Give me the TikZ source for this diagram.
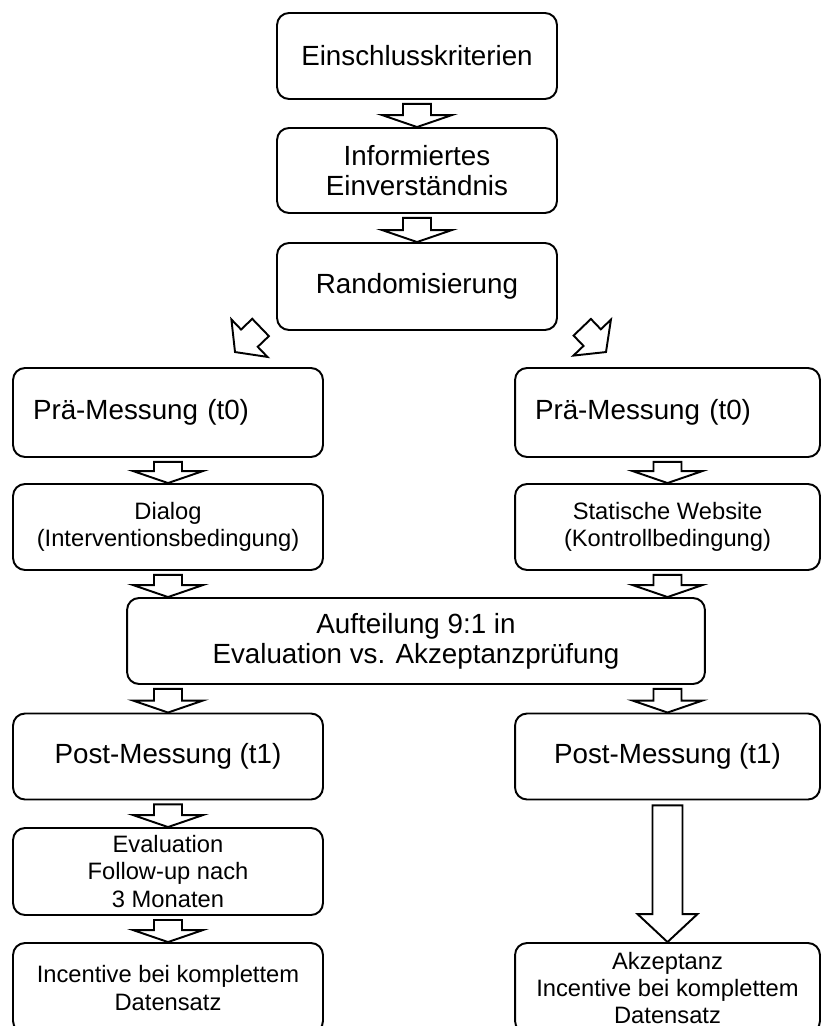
\documentclass[tikz,border=0pt]{standalone}
\usepackage{fontspec}
\setmainfont{Liberation Sans}
\usetikzlibrary{calc}

% hollow block arrow: gap, from, to, shaft half width, head half width, head length
\newcommand{\blockarrow}[6]{%
  \coordinate (tail) at ($(#2)!#1!(#3)$);
  \coordinate (base) at ($(#3)!#6!(#2)$);
  \draw[flow] ($(tail)!#4!90:(#3)$) -- ($(base)!#4!90:(#3)$) -- ($(base)!#5!90:(#3)$)
    -- (#3) -- ($(base)!#5!-90:(#3)$) -- ($(base)!#4!-90:(#3)$) -- ($(tail)!#4!-90:(#3)$) -- cycle;}
\newcommand{\smallarrow}[2]{\blockarrow{0.08cm}{#1}{#2}{0.28cm}{0.7cm}{0.24cm}}
\newcommand{\diagarrow}[2]{\blockarrow{0cm}{#1}{#2}{0.24cm}{0.52cm}{0.4cm}}
\newcommand{\longarrow}[2]{\blockarrow{0.1cm}{#1}{#2}{0.3cm}{0.6cm}{0.56cm}}

\tikzset{
  stepbox/.style={draw, line width=1.1pt, rounded corners=0.24cm, fill=white,
    align=center, inner sep=0pt, font=\fontsize{15.8}{17}\selectfont},
  smalltext/.style={font=\fontsize{13.5}{15.4}\selectfont},
  leftbox/.style={stepbox, minimum width=6.2cm},
  rightbox/.style={stepbox, minimum width=6.1cm},
  flow/.style={draw, line width=1.1pt, fill=white, line join=miter},
}

\begin{document}
\begin{tikzpicture}[x=0.02cm, y=-0.02cm]
  \useasboundingbox (0,0) rectangle (821,1026);
  \clip (0,0) rectangle (821,1026);
  \fill[white] (0,0) rectangle (821,1026);

  % common start
  \node[stepbox, minimum width=5.6cm, minimum height=1.72cm] (einschluss) at (417,56) {Einschlusskriterien};
  \node[stepbox, minimum width=5.6cm, minimum height=1.7cm] (informiert) at (417,170.5) {Informiertes\\Einverständnis};
  \node[stepbox, minimum width=5.6cm, minimum height=1.74cm] (random) at (417,286.5) {Randomisierung};

  % pre measurement
  \node[leftbox, minimum height=1.78cm, align=left, inner xsep=0.4cm, text width=5.4cm] (praeL) at (168,412.5) {Prä-Messung (t0)};
  \node[rightbox, minimum height=1.78cm, align=left, inner xsep=0.4cm, text width=5.3cm] (praeR) at (667.5,412.5) {Prä-Messung (t0)};

  % conditions
  \node[leftbox, smalltext, minimum height=1.72cm] (dialog) at (168,527) {Dialog\\(Interventionsbedingung)};
  \node[rightbox, smalltext, minimum height=1.72cm] (statisch) at (667.5,527) {Statische Website\\(Kontrollbedingung)};

  % split
  \node[stepbox, minimum width=11.56cm, minimum height=1.72cm] (aufteilung) at (416,641) {Aufteilung 9:1 in\\Evaluation vs. Akzeptanzprüfung};

  % post measurement
  \node[leftbox, minimum height=1.72cm] (postL) at (168,756.5) {Post-Messung (t1)};
  \node[rightbox, minimum height=1.72cm] (postR) at (667.5,756.5) {Post-Messung (t1)};

  % follow-up and incentives
  \node[leftbox, smalltext, minimum height=1.74cm] (evaluation) at (168,871.5) {Evaluation\\Follow-up nach\\3 Monaten};
  \node[leftbox, smalltext, minimum height=1.8cm] (incentive) at (168,988) {Incentive bei komplettem\\Datensatz};
  \node[rightbox, smalltext, minimum height=1.8cm] (akzeptanz) at (667.5,988) {Akzeptanz\\Incentive bei komplettem\\Datensatz};

  % free ends
  \coordinate (ltail) at ($(random.south west)+(-15.5,-3.5)$);
  \coordinate (ltip) at ($(praeL.north)+(67,-15)$);
  \coordinate (rtail) at ($(random.south east)+(24.3,-3.7)$);
  \coordinate (rtip) at ($(praeR.north)+(-61.5,-15)$);
  \coordinate (dialogin) at (dialog.south |- aufteilung.north);
  \coordinate (statischin) at (statisch.south |- aufteilung.north);
  \coordinate (postLout) at (postL.north |- aufteilung.south);
  \coordinate (postRout) at (postR.north |- aufteilung.south);

  % arrows
  \smallarrow{einschluss.south}{informiert.north}
  \smallarrow{informiert.south}{random.north}
  \diagarrow{ltail}{ltip}
  \diagarrow{rtail}{rtip}
  \smallarrow{praeL.south}{dialog.north}
  \smallarrow{praeR.south}{statisch.north}
  \smallarrow{dialog.south}{dialogin}
  \smallarrow{statisch.south}{statischin}
  \smallarrow{postLout}{postL.north}
  \smallarrow{postRout}{postR.north}
  \smallarrow{postL.south}{evaluation.north}
  \smallarrow{evaluation.south}{incentive.north}
  \longarrow{postR.south}{akzeptanz.north}
\end{tikzpicture}
\end{document}
